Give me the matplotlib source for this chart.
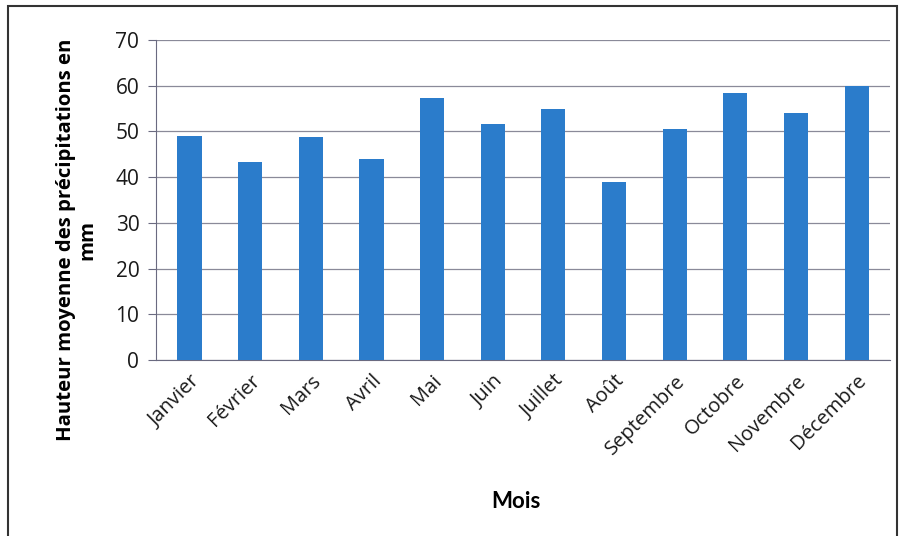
import matplotlib.pyplot as plt
from matplotlib.patches import Rectangle

# Données
mois = ['Janvier', 'Février', 'Mars', 'Avril', 'Mai', 'Juin', 'Juillet',
        'Août', 'Septembre', 'Octobre', 'Novembre', 'Décembre']
precipitations = [49.1, 43.4, 48.8, 44.0, 57.2, 51.7, 54.8, 39.0, 50.5, 58.5, 54.1, 60.0]
yticks = [0, 10, 20, 30, 40, 50, 60, 70]

fig = plt.figure(figsize=(9.03, 5.36), dpi=100)
ax = fig.add_axes([0.1728, 0.3284, 0.8128, 0.597])

# Cadre extérieur
fig.patches.append(Rectangle((0.009, -0.05), 0.984, 1.038, transform=fig.transFigure,
                             fill=False, edgecolor='#333333', linewidth=1.5))

x = range(len(mois))
ax.bar(x, precipitations, width=0.4, color='#2B7CCB', zorder=3)

ax.set_xlim(-0.55, len(mois) - 0.45)
ax.set_ylim(0, 70)
ax.set_yticks(yticks)
ax.grid(axis='y', color='#8a8a99', linewidth=0.9, zorder=0)

ax.set_xticks(list(x))
ax.set_xticklabels(mois, rotation=45, ha='right', rotation_mode='anchor',
                   fontsize=14.5, family='Open Sans', color='#1a1a1a')
for lab in ax.get_yticklabels():
    lab.set_fontsize(15)
    lab.set_family('Open Sans')
    lab.set_color('#1a1a1a')

ax.tick_params(axis='x', length=0, pad=8)
ax.tick_params(axis='y', length=6, color='#6a6a80', pad=6)

for s in ['top', 'right']:
    ax.spines[s].set_visible(False)
ax.spines['left'].set_color('#6a6a80')
ax.spines['bottom'].set_color('#6a6a80')

ax.set_xlabel('Mois', fontsize=16, fontweight='bold', family='Lato')
ax.xaxis.set_label_coords(0.49, -0.41)
ax.set_ylabel('Hauteur moyenne des précipitations en\nmm', fontsize=14.7,
              fontweight='bold', family='Open Sans', linespacing=1.1)
ax.yaxis.set_label_coords(-0.08, 0.375)

fig.savefig('out.png', dpi=100)
